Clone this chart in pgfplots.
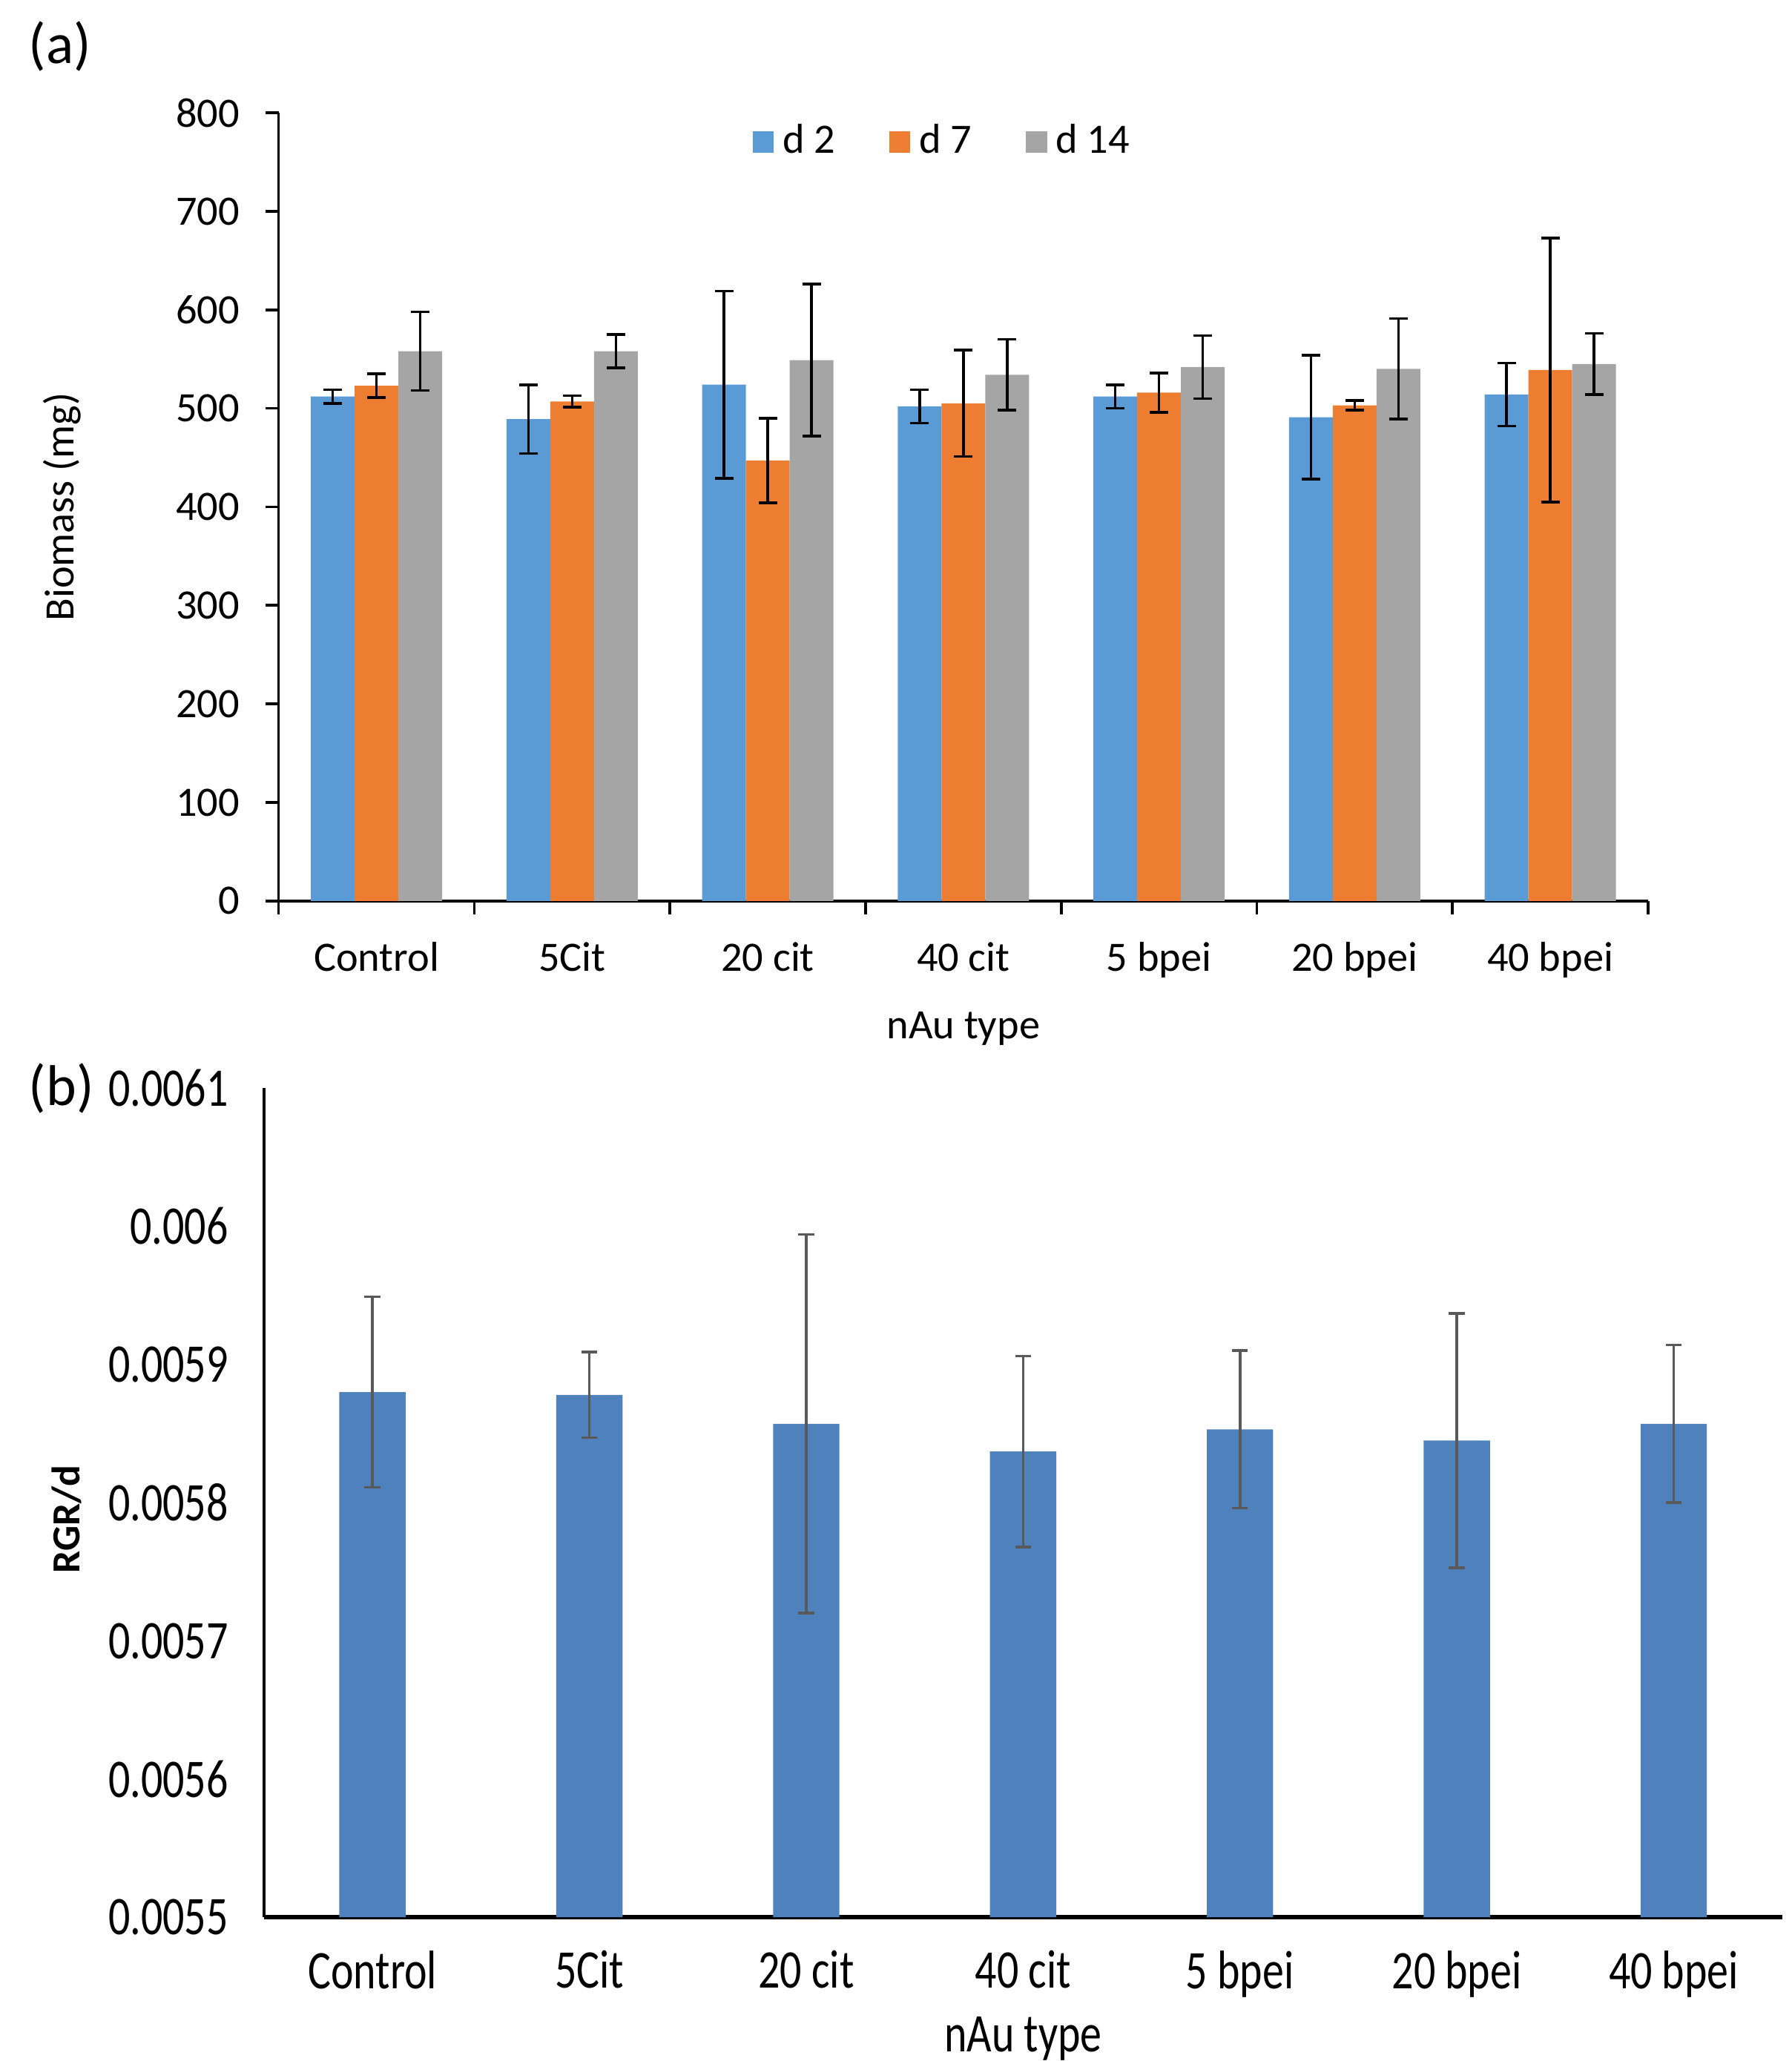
\documentclass[border=0pt]{standalone}
\usepackage{fontspec}
\setmainfont{Carlito}
\newfontfamily\condfont[FakeStretch=0.79]{Carlito}
\usepackage{pgfplots}
\pgfplotsset{compat=1.18}

\definecolor{cblue}{HTML}{5B9BD5}
\definecolor{corange}{HTML}{ED7D31}
\definecolor{cgray}{HTML}{A5A5A5}
\definecolor{rgrblue}{HTML}{4F81BD}
\definecolor{errgray}{HTML}{595959}

\newcommand{\fa}{\fontsize{9.45}{11}\selectfont}
\newcommand{\fb}{\condfont\fontsize{12.3}{14}\selectfont}

\pgfplotsset{
  sq legend/.style={legend image code/.code={\fill[##1] (0pt,-2.4pt) rectangle (4.8pt,2.4pt);}},
  errA/.style={error bars/.cd, y dir=both, y explicit,
    error bar style={line width=0.6pt, black},
    error mark options={rotate=90, mark size=2.1pt, line width=0.6pt, black}},
}

\begin{document}
\begin{tikzpicture}
\useasboundingbox (0,0) rectangle (405pt,-466pt);

\node[anchor=west, font=\fontsize{13}{15}\selectfont] at (3pt,-10.5pt) {(a)};
\node[anchor=west, font=\fontsize{13}{15}\selectfont] at (3pt,-246pt) {(b)};

% (a) biomass
\begin{axis}[
  at={(63pt,-25.5pt)}, anchor=north west,
  scale only axis, width=309.6pt, height=178.2pt,
  xmin=-0.5, xmax=6.5, ymin=0, ymax=800,
  axis x line*=bottom, axis y line*=left,
  axis line style={line width=0.6pt},
  ybar=0pt, bar width=9.9pt,
  xtick={-0.5,0.5,...,6.5},
  xticklabels={Control,5Cit,20 cit,40 cit,5 bpei,20 bpei,40 bpei},
  x tick label as interval,
  ytick={0,100,...,800},
  tick align=outside, major tick length=3pt,
  tick style={line width=0.6pt, black},
  /pgf/number format/assume math mode=true,
  tick label style={font=\fa},
  xticklabel style={yshift=-2.8pt},
  yticklabel style={xshift=-2.3pt},
  xlabel={nAu type}, ylabel={Biomass (mg)},
  label style={font=\fa},
  xlabel style={at={(axis description cs:0.5,-0.162)}, anchor=center},
  ylabel style={at={(axis description cs:-0.158,0.5)}, anchor=center},
  legend style={at={(0.487,0.963)}, anchor=center, draw=none, fill=none,
    legend columns=3, font=\fa,
    /tikz/every even column/.append style={column sep=10.2pt}},
]
\addplot[fill=cblue, draw=none, sq legend, errA] coordinates {
  (0,512) +- (0,7)
  (1,489) +- (0,35)
  (2,524) +- (0,95)
  (3,502) +- (0,17)
  (4,512) +- (0,12)
  (5,491) +- (0,63)
  (6,514) +- (0,32)
};
\addplot[fill=corange, draw=none, sq legend, errA] coordinates {
  (0,523) +- (0,12)
  (1,507) +- (0,6)
  (2,447) +- (0,43)
  (3,505) +- (0,54)
  (4,516) +- (0,20)
  (5,503) +- (0,5)
  (6,539) +- (0,134)
};
\addplot[fill=cgray, draw=none, sq legend, errA] coordinates {
  (0,558) +- (0,40)
  (1,558) +- (0,17)
  (2,549) +- (0,77)
  (3,534) +- (0,36)
  (4,542) +- (0,32)
  (5,540) +- (0,51)
  (6,545) +- (0,31)
};
\legend{d 2,d 7,d 14}
\end{axis}

% (b) RGR
\begin{axis}[
  at={(59.7pt,-246pt)}, anchor=north west,
  scale only axis, width=343.2pt, height=187.5pt,
  xmin=-0.5, xmax=6.5, ymin=0.0055, ymax=0.0061,
  axis x line*=bottom, axis y line*=left,
  x axis line style={line width=1pt},
  y axis line style={line width=0.8pt},
  scaled y ticks=false,
  xtick={0,...,6},
  xticklabels={Control,5Cit,20 cit,40 cit,5 bpei,20 bpei,40 bpei},
  ytick={0.0055,0.0056,0.0057,0.0058,0.0059,0.006,0.0061},
  yticklabels={0.0055,0.0056,0.0057,0.0058,0.0059,0.006,0.0061},
  tick style={draw=none},
  /pgf/number format/assume math mode=true,
  tick label style={font=\fb},
  xticklabel style={yshift=-4pt},
  yticklabel style={xshift=-4.6pt},
  xlabel={nAu type}, ylabel={RGR/d},
  label style={font=\fb},
  xlabel style={at={(axis description cs:0.5,-0.146)}, anchor=center},
  ylabel style={at={(axis description cs:-0.130,0.48)}, anchor=center,
    font=\fontsize{9}{11}\selectfont\bfseries},
]
\addplot[ybar, bar width=15pt, fill=rgrblue, draw=none,
  error bars/.cd, y dir=both, y explicit,
  error bar style={line width=0.6pt, errgray},
  error mark options={rotate=90, mark size=1.8pt, line width=0.6pt, errgray}]
  coordinates {
  (0,0.005880) +- (0,0.000069)
  (1,0.005878) +- (0,0.000031)
  (2,0.005857) +- (0,0.000137)
  (3,0.005837) +- (0,0.000069)
  (4,0.005853) +- (0,0.000057)
  (5,0.005845) +- (0,0.000092)
  (6,0.005857) +- (0,0.000057)
};
\end{axis}
\end{tikzpicture}
\end{document}
